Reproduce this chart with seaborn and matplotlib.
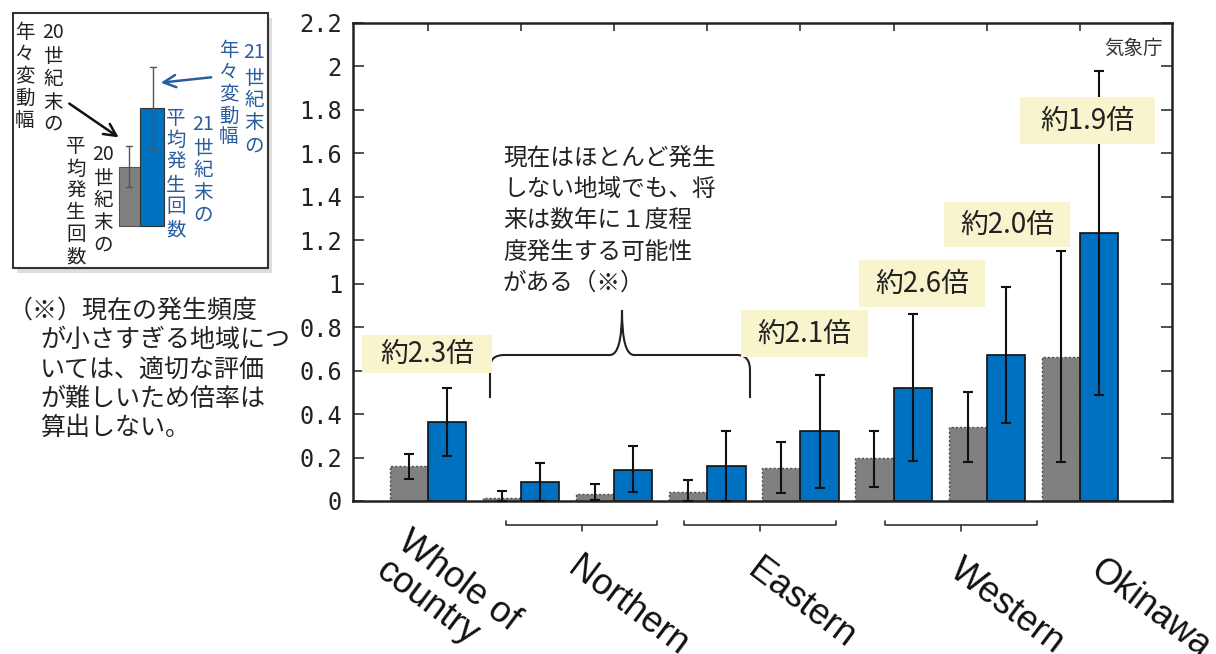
import numpy as np
import pandas as pd
import matplotlib
matplotlib.use("Agg")
import matplotlib.pyplot as plt
import seaborn as sns
from matplotlib.patches import Rectangle, PathPatch, FancyArrowPatch
from matplotlib.path import Path
from matplotlib.lines import Line2D

# データ (気象庁: 平均発生回数, 20世紀末 vs 21世紀末)
regions = ["全国", "北日本日本海側", "北日本太平洋側", "東日本日本海側",
           "東日本太平洋側", "西日本日本海側", "西日本太平洋側", "沖縄・奄美"]
gray_mean = [0.16, 0.013, 0.03, 0.04, 0.15, 0.197, 0.34, 0.665]
gray_low = [0.10, 0.0, 0.005, 0.0, 0.035, 0.066, 0.18, 0.18]
gray_high = [0.216, 0.046, 0.08, 0.097, 0.27, 0.32, 0.50, 1.15]
blue_mean = [0.364, 0.088, 0.143, 0.16, 0.32, 0.52, 0.67, 1.235]
blue_low = [0.207, 0.0, 0.04, 0.0, 0.06, 0.185, 0.36, 0.49]
blue_high = [0.52, 0.175, 0.255, 0.32, 0.58, 0.86, 0.985, 1.98]
periods = ["20世紀末", "21世紀末"]

ratio_labels = ["約2.3倍", "約2.1倍", "約2.6倍", "約2.0倍", "約1.9倍"]
group_labels = ["Whole of\ncountry", "Northern", "Eastern", "Western", "Okinawa"]
y_ticks = [0, 0.2, 0.4, 0.6, 0.8, 1, 1.2, 1.4, 1.6, 1.8, 2, 2.2]

GRAY = "#808080"
BLUE = "#0070c0"
YELLOW = "#f8f4cd"
TXTBLUE = "#2a5d9e"

W, H = 1216, 654

sns.set_style("white")
plt.rcParams['font.family'] = ['Noto Sans CJK JP', 'DejaVu Sans']

fig = plt.figure(figsize=(W / 100, H / 100), dpi=100)
ax = fig.add_axes([353 / W, 1 - 501 / H, (1172 - 353) / W, (501 - 23) / H])

df = pd.DataFrame({
    "region": regions * 2,
    "period": [periods[0]] * len(regions) + [periods[1]] * len(regions),
    "value": gray_mean + blue_mean,
})
sns.barplot(data=df, x="region", y="value", hue="period", order=regions,
            hue_order=periods, palette=[GRAY, BLUE], width=0.82,
            errorbar=None, legend=False, saturation=1, ax=ax)

lows = [gray_low, blue_low]
highs = [gray_high, blue_high]
bar_conts = list(ax.containers)
for k, cont in enumerate(bar_conts):
    xs, hs = [], []
    for p in cont.patches:
        xs.append(p.get_x() + p.get_width() / 2)
        hs.append(p.get_height())
        if k == 0:
            p.set_edgecolor("#4a4a4a")
            p.set_linestyle((0, (1.5, 1.5)))
            p.set_linewidth(1.0)
        else:
            p.set_edgecolor("#111111")
            p.set_linewidth(1.2)
    hs = np.array(hs)
    yerr = [hs - np.array(lows[k]), np.array(highs[k]) - hs]
    ax.errorbar(xs, hs, yerr=yerr, fmt="none", ecolor="#111111",
                elinewidth=1.5, capsize=3.5, capthick=1.5, zorder=3)

ax.set_xlim(-0.805, 7.99)
ax.set_ylim(0, 2.2)
ax.set_yticks(y_ticks)
ax.set_yticklabels([f"{v:g}" for v in y_ticks], family="DejaVu Sans Mono",
                   fontsize=17, color="#222222")
ax.set_xticklabels([])
ax.set_xlabel("")
ax.set_ylabel("")
ax.tick_params(axis="y", left=True, right=True, direction="in", length=8,
               width=1.2, color="#333333", pad=8)
ax.tick_params(axis="x", top=True, bottom=False, direction="in", length=6,
               width=1.2, color="#333333")
for s in ax.spines.values():
    s.set_linewidth(1.8)
    s.set_color("#222222")


def fx(x):
    return x / W


def fy(y):
    return 1 - y / H


def ptxt(x, y, s, **kw):
    fig.text(fx(x), fy(y), s, **kw)


# 倍率の黄色いボックス
boxes = [(362, 492, 335, 373), (741, 868, 310, 357), (859, 985, 260, 307),
         (944, 1070, 202, 247), (1020, 1155, 97, 144)]
for (x0, x1, y0, y1), lab in zip(boxes, ratio_labels):
    fig.add_artist(Rectangle((fx(x0), fy(y1)), fx(x1 - x0), (y1 - y0) / H,
                             transform=fig.transFigure, facecolor=YELLOW,
                             edgecolor="none", zorder=5))
    ptxt((x0 + x1) / 2, (y0 + y1) / 2, lab, ha="center", va="center",
         fontsize=20, color="#222222", zorder=6)

ptxt(1163, 48, "気象庁", ha="right", va="center", fontsize=14, color="#333333")

# 中括弧と注記
note_lines = ["現在はほとんど発生", "しない地域でも、将", "来は数年に１度程",
              "度発生する可能性", "がある（※）"]
for i, line in enumerate(note_lines):
    ptxt(503, 158 + 31.3 * i, line, ha="left", va="center", fontsize=17,
         color="#222222")

brace_pts = [(490, 398), (490, 368), (490, 355), (504, 355), (610, 355),
             (622, 355), (622, 310), (622, 355), (634, 355), (737, 355),
             (750, 355), (750, 370), (750, 398)]
codes = [Path.MOVETO, Path.LINETO, Path.CURVE3, Path.CURVE3, Path.LINETO,
         Path.CURVE3, Path.CURVE3, Path.CURVE3, Path.CURVE3, Path.LINETO,
         Path.CURVE3, Path.CURVE3, Path.LINETO]
brace = Path([(fx(a), fy(b)) for a, b in brace_pts], codes)
fig.add_artist(PathPatch(brace, transform=fig.transFigure, facecolor="none",
                         edgecolor="#222222", lw=1.5))

# 下のブラケット
for x0, x1 in [(506, 657), (684, 836), (885, 1037)]:
    xm = (x0 + x1) / 2
    fig.add_artist(Line2D([fx(x0), fx(x0), fx(x1), fx(x1)],
                          [fy(521), fy(525), fy(525), fy(521)],
                          transform=fig.transFigure, color="#333333", lw=1.2))
    fig.add_artist(Line2D([fx(xm), fx(xm)], [fy(525), fy(531)],
                          transform=fig.transFigure, color="#333333", lw=1.2))

# 斜めの英語ラベル
label_anchor = [(412, 524), (582, 550), (762, 552), (964, 552), (1104, 552)]
for (x, y), lab in zip(label_anchor, group_labels):
    ptxt(x, y, lab, ha="left", va="top", rotation=-37, rotation_mode="anchor",
         fontsize=26, family="Liberation Sans", color="#111111",
         linespacing=1.05)

# 左上の凡例パネル
fig.add_artist(Rectangle((fx(17), fy(273)), fx(255), 255 / H,
                         transform=fig.transFigure, facecolor="#c8c8c8",
                         edgecolor="none", alpha=0.6, zorder=1))
fig.add_artist(Rectangle((fx(13), fy(268)), fx(255), 255 / H,
                         transform=fig.transFigure, facecolor="white",
                         edgecolor="#333333", lw=1.5, zorder=2))
fig.add_artist(Rectangle((fx(119), fy(226)), fx(21), 59 / H,
                         transform=fig.transFigure, facecolor=GRAY,
                         edgecolor="#555555", lw=0.8, zorder=3))
fig.add_artist(Rectangle((fx(140), fy(226)), fx(24), 118 / H,
                         transform=fig.transFigure, facecolor=BLUE,
                         edgecolor="#333333", lw=0.8, zorder=3))
for xe, ya, yb in [(129, 146, 187), (153, 67, 150)]:
    fig.add_artist(Line2D([fx(xe), fx(xe)], [fy(ya), fy(yb)],
                          transform=fig.transFigure, color="#555555", lw=1,
                          zorder=4))
    for yy in (ya, yb):
        fig.add_artist(Line2D([fx(xe - 3), fx(xe + 3)], [fy(yy), fy(yy)],
                              transform=fig.transFigure, color="#555555",
                              lw=1, zorder=4))


def vcol(x, ys, chars, color, size=14):
    for yy, ch in zip(ys, chars):
        ptxt(x, yy, ch, ha="center", va="center", fontsize=size, color=color,
             zorder=5)


vcol(25, [32, 54, 76, 98, 120], ["年", "々", "変", "動", "幅"], "#222222")
vcol(53, [32, 56, 79, 102, 124], ["20", "世", "紀", "末", "の"], "#222222")
vcol(76, [147, 169, 191, 213, 235, 257], ["平", "均", "発", "生", "回", "数"],
     "#222222")
vcol(103, [155, 178, 200, 222, 245], ["20", "世", "紀", "末", "の"], "#222222")
vcol(229, [50, 72, 94, 116, 137], ["年", "々", "変", "動", "幅"], TXTBLUE)
vcol(254, [53, 78, 100, 123, 146], ["21", "世", "紀", "末", "の"], TXTBLUE)
vcol(176, [118, 140, 162, 185, 207, 230], ["平", "均", "発", "生", "回", "数"],
     TXTBLUE)
vcol(203, [125, 148, 170, 192, 215], ["21", "世", "紀", "末", "の"], TXTBLUE)

fig.add_artist(FancyArrowPatch((fx(67), fy(102)), (fx(121), fy(139)),
                               transform=fig.transFigure, arrowstyle="->",
                               mutation_scale=22, color="#111111", lw=1.8,
                               zorder=6))
fig.add_artist(FancyArrowPatch((fx(214), fy(77)), (fx(158), fy(83)),
                               transform=fig.transFigure, arrowstyle="->",
                               mutation_scale=22, color=TXTBLUE, lw=1.8,
                               zorder=6))

# 脚注
foot = ["（※）現在の発生頻度", "が小さすぎる地域につ", "いては、適切な評価",
        "が難しいため倍率は", "算出しない。"]
for i, line in enumerate(foot):
    ptxt(8 if i == 0 else 40, 311 + 29.2 * i, line, ha="left", va="center",
         fontsize=18, color="#222222")

fig.savefig("out.png", dpi=100)
